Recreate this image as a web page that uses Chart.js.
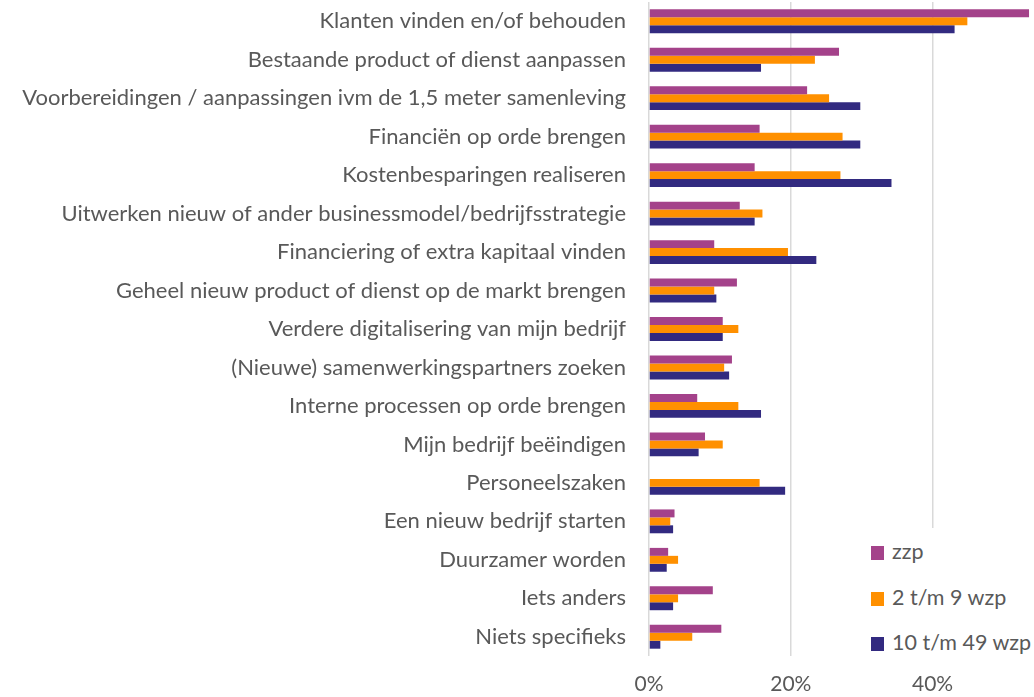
<!DOCTYPE html>
<html lang="nl">
<head>
    <meta charset="UTF-8">
    <title>Activiteiten per bedrijfsgrootte</title>
    <script src="https://cdn.jsdelivr.net/npm/chart.js"></script>
    <style>
        body {
            margin: 0;
            background: #fff;
        }

        .wrap {
            position: relative;
            width: 1034px;
            height: 697px;
        }

        /* legend sits inside the plot, on a white box over the gridline */
        .legend {
            position: absolute;
            left: 862px;
            top: 528px;
            width: 172px;
            height: 128px;
            background: #fff;
            font-family: Lato, "Open Sans", sans-serif;
            font-size: 21.5px;
            color: #595959;
        }

        .legend-item {
            position: absolute;
            left: 9px;
            height: 24px;
            line-height: 24px;
            white-space: nowrap;
        }

        .legend-item span {
            display: inline-block;
            width: 13px;
            height: 14px;
            margin-right: 8px;
            vertical-align: -1px;
        }
    </style>
</head>
<body>
    <div class="wrap">
        <canvas id="chart" width="1034" height="697"></canvas>
        <div class="legend" id="legend"></div>
    </div>

    <script>
        const categories = [
            'Klanten vinden en/of behouden',
            'Bestaande product of dienst aanpassen',
            'Voorbereidingen / aanpassingen ivm de 1,5 meter samenleving',
            'Financiën op orde brengen',
            'Kostenbesparingen realiseren',
            'Uitwerken nieuw of ander businessmodel/bedrijfsstrategie',
            'Financiering of extra kapitaal vinden',
            'Geheel nieuw product of dienst op de markt brengen',
            'Verdere digitalisering van mijn bedrijf',
            '(Nieuwe) samenwerkingspartners zoeken',
            'Interne processen op orde brengen',
            'Mijn bedrijf beëindigen',
            'Personeelszaken',
            'Een nieuw bedrijf starten',
            'Duurzamer worden',
            'Iets anders',
            'Niets specifieks'
        ];

        const seriesNames = ['zzp', '2 t/m 9 wzp', '10 t/m 49 wzp'];
        const seriesColors = ['#A4428A', '#FF9000', '#322A80'];

        const zzp = [53.6, 26.8, 22.3, 15.6, 14.9, 12.8, 9.2, 12.4, 10.4, 11.7, 6.8, 7.9, 0, 3.6, 2.7, 9.0, 10.2];
        const wzp2to9 = [44.9, 23.4, 25.4, 27.3, 27.0, 16.0, 19.6, 9.2, 12.6, 10.6, 12.6, 10.4, 15.6, 3.0, 4.1, 4.1, 6.1];
        const wzp10to49 = [43.1, 15.8, 29.8, 29.8, 34.2, 14.9, 23.6, 9.5, 10.4, 11.3, 15.8, 7.0, 19.2, 3.4, 2.5, 3.4, 1.6];

        const xTicks = [0, 20, 40];
        const xMax = 54.3; // picture is cut off at the right edge

        const seriesData = [zzp, wzp2to9, wzp10to49];
        const fontFamily = 'Lato, "Open Sans", sans-serif';

        new Chart(document.getElementById('chart'), {
            type: 'bar',
            data: {
                labels: categories,
                datasets: seriesNames.map((name, i) => ({
                    label: name,
                    data: seriesData[i],
                    backgroundColor: seriesColors[i],
                    categoryPercentage: 0.62,
                    barPercentage: 1.0
                }))
            },
            options: {
                indexAxis: 'y',
                responsive: false,
                animation: false,
                layout: { padding: { top: 2, right: 0, bottom: 0, left: 0 } },
                plugins: {
                    legend: { display: false },
                    tooltip: { enabled: false }
                },
                scales: {
                    x: {
                        min: 0,
                        max: xMax,
                        afterBuildTicks: scale => {
                            scale.ticks = xTicks.map(v => ({ value: v }));
                        },
                        afterFit: scale => { scale.height = 41; },
                        grid: { color: '#D9D9D9', lineWidth: 1.5, drawTicks: false },
                        border: { display: false },
                        ticks: {
                            padding: 16,
                            color: '#595959',
                            font: { family: fontFamily, size: 21 },
                            callback: v => v + '%'
                        }
                    },
                    y: {
                        afterFit: scale => {
                            scale.width = 649;
                            // tick padding would otherwise be added above and below the plot
                            scale.paddingTop = 0;
                            scale.paddingBottom = 0;
                        },
                        grid: { display: false, drawTicks: false, tickLength: 0 },
                        border: { display: false },
                        ticks: {
                            padding: 23,
                            color: '#595959',
                            font: { family: fontFamily, size: 22 },
                            autoSkip: false
                        }
                    }
                }
            }
        });

        // HTML legend
        const legend = document.getElementById('legend');
        const legendTops = [11, 57, 102];
        seriesNames.forEach((name, i) => {
            const item = document.createElement('div');
            item.className = 'legend-item';
            item.style.top = legendTops[i] + 'px';
            item.innerHTML = `<span style="background:${seriesColors[i]}"></span>${name}`;
            legend.appendChild(item);
        });
    </script>
</body>
</html>
